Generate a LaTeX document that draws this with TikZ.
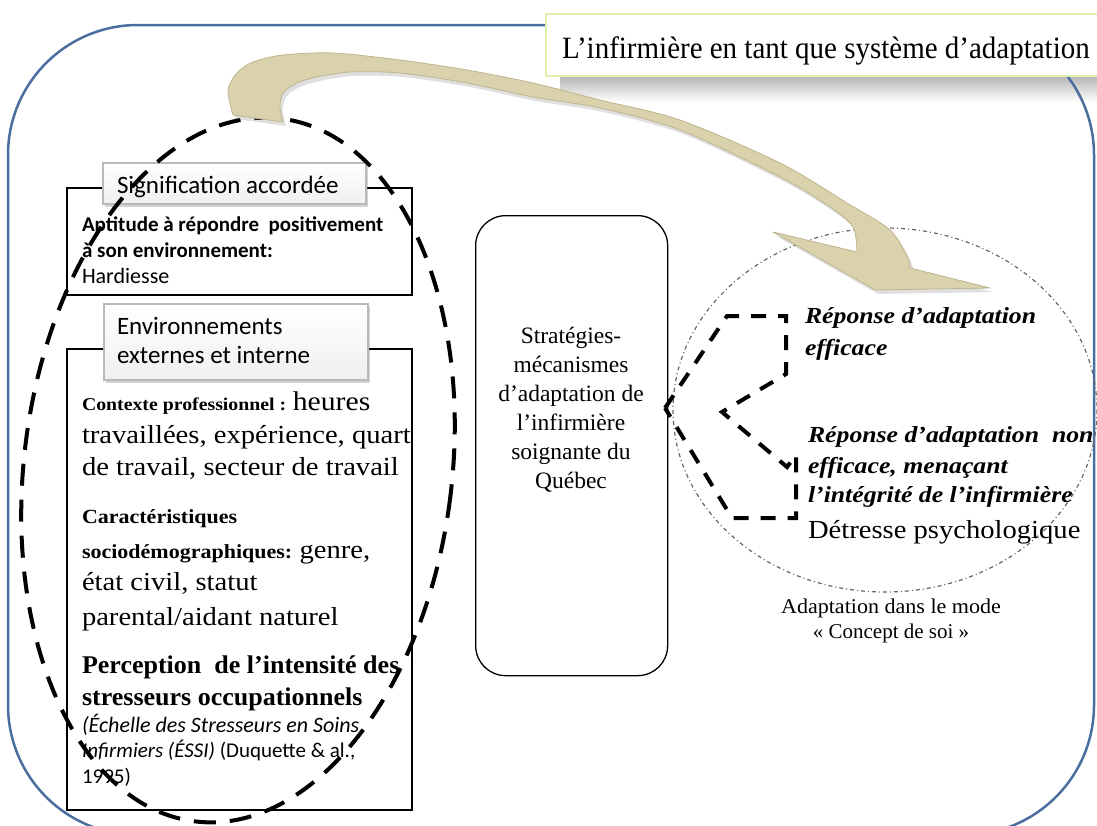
\documentclass[tikz,border=0pt]{standalone}
\usepackage{fontspec}
\setmainfont{Liberation Serif}
\newfontfamily\calib{Carlito}
\usetikzlibrary{shadows}
\newcommand\fsz[1]{\fontsize{#1}{#1}\selectfont}
\definecolor{frameblue}{RGB}{74,110,158}
\definecolor{arrowbeige}{RGB}{218,210,172}
\definecolor{arrowedge}{RGB}{190,181,142}
\definecolor{titlegreen}{RGB}{222,240,170}
\tikzset{
  txt/.style={anchor=base west, inner sep=0pt, outer sep=0pt},
  ctxt/.style={anchor=base, inner sep=0pt, outer sep=0pt},
  labelbox/.style={draw=gray!55, line width=1.5pt, top color=white, bottom color=gray!12, drop shadow={opacity=0.35, shadow xshift=2pt, shadow yshift=-3pt}},
  blackbox/.style={draw=black, line width=2.8pt, fill=white},
  bigdash/.style={line width=4pt, dash pattern=on 22pt off 14pt},
  chevdash/.style={line width=4pt, dash pattern=on 15pt off 12pt},
  wide/.style={xscale=1.1},
  rtxt/.style={txt, xscale=1.12},
}
\begin{document}
\begin{tikzpicture}[x=1pt,y=-1pt]
\useasboundingbox (0,0) rectangle (1097,825);
% title shadow
\shade[top color=gray!60, bottom color=white] (560,75) rectangle (1097,102);
% outer frame
\draw[frameblue, line width=2.5pt, rounded corners=130pt] (8,25) rectangle (1094,835);
% title box
\node[draw=titlegreen, line width=2pt, fill=white, minimum width=560pt, minimum height=62pt, anchor=north west, inner sep=0pt] (titlebox) at (545,13) {};
\node[txt, xscale=0.935] (title) at (562,58) {\fsz{31}L’infirmière en tant que système d’adaptation};
% right circle
\draw[gray!80!black, line width=1.2pt, dash pattern=on 4pt off 3pt on 1pt off 3pt] (885,410) ellipse [x radius=212, y radius=182];
% left boxes
\draw[blackbox] (67,188) rectangle (412,295);
\draw[blackbox] (67,349) rectangle (412,810);
% middle box
\node[draw=black, line width=1.3pt, rounded corners=30pt, minimum width=192pt, minimum height=460pt, anchor=north west] (strat) at (475,215) {};
\node[align=center, inner sep=0pt, font=\rmfamily\fontsize{23.5}{29}\selectfont] (strattxt) at (571,410) {Stratégies-\\mécanismes\\d’adaptation de\\l’infirmière\\soignante du\\Québec};
% label boxes
\node[labelbox, minimum width=263pt, minimum height=41pt, anchor=north west, inner sep=0pt] (sigbox) at (102,162) {};
\node[txt] (sig) at (117,193) {\calib\fsz{25}Signification accordée};
\node[labelbox, minimum width=264pt, minimum height=76pt, anchor=north west, inner sep=0pt] (envbox) at (103,303) {};
\node[txt] (env1) at (117,334) {\calib\fsz{25}Environnements};
\node[txt] (env2) at (117,363) {\calib\fsz{25}externes et interne};
% texts box 1
\node[txt] (apt1) at (82,231) {\calib\bfseries\fsz{21}Aptitude à répondre \ positivement};
\node[txt] (apt2) at (82,257) {\calib\bfseries\fsz{21}à son environnement:};
\node[txt] (apt3) at (82,283) {\calib\fsz{22}Hardiesse};
% texts box 2
\node[txt, wide] (c1) at (82,410) {\fsz{18}\textbf{Contexte professionnel :} \fsz{27}heures};
\node[txt, wide] (c2) at (82,443) {\fsz{26}travaillées, expérience, quart};
\node[txt, wide] (c3) at (82,475) {\fsz{26}de travail, secteur de travail};
\node[txt, wide] (d1) at (82,523) {\fsz{20}\textbf{Caractéristiques}};
\node[txt, wide] (d2) at (82,558) {\fsz{20}\textbf{sociodémographiques:} \fsz{26}genre,};
\node[txt, wide] (d3) at (82,590) {\fsz{26}état civil, statut};
\node[txt, wide] (d4) at (82,625) {\fsz{26}parental/aidant naturel};
\node[txt, xscale=1.02] (p1) at (82,673) {\fsz{25.5}\textbf{Perception \ de l’intensité des}};
\node[txt, xscale=1.02] (p2) at (82,705) {\fsz{25.5}\textbf{stresseurs occupationnels}};
\node[txt] (p3) at (82,732) {\calib\fsz{22}\textit{(Échelle des Stresseurs en Soins}};
\node[txt] (p4) at (82,757) {\calib\fsz{21}\textit{Infirmiers (ÉSSI)} (Duquette \& al.,};
\node[txt] (p5) at (82,783) {\calib\fsz{21}1995)};
% big dashed ellipse
\draw[bigdash] (238,470) ellipse [x radius=214, y radius=354, rotate=-7];
% chevron
\draw[chevdash] (665,408) -- (727,316) -- (786,316) -- (786,374) -- (722,412) -- (787,467) -- (796,455) -- (796,518) -- (732,518) -- cycle;
% right texts
\node[rtxt] (r1) at (805,323) {\fsz{23}\textbf{\textit{Réponse d’adaptation}}};
\node[rtxt] (r2) at (805,355) {\fsz{23}\textbf{\textit{efficace}}};
\node[rtxt] (n1) at (808,442) {\fsz{23}\textbf{\textit{Réponse d’adaptation \ non}}};
\node[rtxt] (n2) at (808,473) {\fsz{23}\textbf{\textit{efficace, menaçant}}};
\node[rtxt] (n3) at (808,502) {\fsz{23}\textbf{\textit{l’intégrité de l’infirmière}}};
\node[txt, xscale=1.1] (n4) at (808,538) {\fsz{26}Détresse psychologique};
\node[ctxt, xscale=1.05] (m1) at (891,613) {\fsz{21}Adaptation dans le mode};
\node[ctxt] (m2) at (891,638) {\fsz{21}« Concept de soi »};
% big curved arrow: shadow
\fill[gray, opacity=0.25, shift={(3pt,-4pt)}]
  plot[smooth] coordinates {(233,115) (228,90) (237,73) (253,62) (283,55) (333,53) (400,60) (467,70) (533,83) (600,100) (680,120) (780,163) (847,203) (890,230) (908,258) (910,268)}
  -- (990,288) -- (875,290) -- (773,232) -- (857,252)
  -- plot[smooth] coordinates {(857,252) (853,227) (830,207) (780,177) (680,130) (600,108) (533,97) (467,83) (400,73) (350,72) (317,77) (297,83) (283,93) (280,107) (283,122)}
  -- cycle;
% big curved arrow
\filldraw[fill=arrowbeige, draw=arrowedge, line width=0.8pt, line join=round]
  plot[smooth] coordinates {(233,115) (228,90) (237,73) (253,62) (283,55) (333,53) (400,60) (467,70) (533,83) (600,100) (680,120) (780,163) (847,203) (890,230) (908,258) (910,268)}
  -- (990,288) -- (875,290) -- (773,232) -- (857,252)
  -- plot[smooth] coordinates {(857,252) (853,227) (830,207) (780,177) (680,130) (600,108) (533,97) (467,83) (400,73) (350,72) (317,77) (297,83) (283,93) (280,107) (283,122)}
  -- cycle;
\end{tikzpicture}
\end{document}
